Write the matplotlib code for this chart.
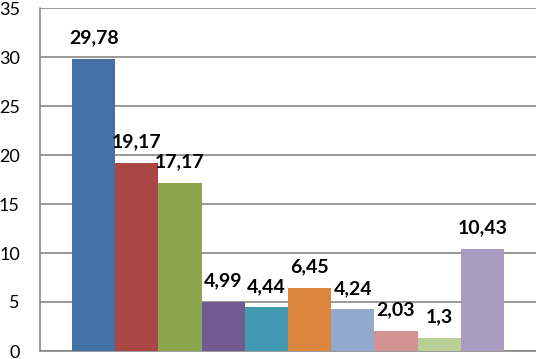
import matplotlib.pyplot as plt
import numpy as np

# valores
valores = [29.78, 19.17, 17.17, 4.99, 4.44, 6.45, 4.24, 2.03, 1.3, 10.43]
rotulos = ["29,78", "19,17", "17,17", "4,99", "4,44", "6,45", "4,24", "2,03", "1,3", "10,43"]
cores = ["#4470A8", "#AA4643", "#8BA64F", "#725A92", "#4299B2", "#DB853D",
         "#93AACF", "#D29392", "#B9CF96", "#A99BC0"]
yticks = [0, 5, 10, 15, 20, 25, 30, 35]

plt.rcParams['font.family'] = ['Lato', 'DejaVu Sans']

fig = plt.figure(figsize=(5.36, 3.59), dpi=100)
ax = fig.add_axes([40/536, 8/359, 500/536, 343/359])

xs = np.arange(len(valores))
ax.bar(xs, valores, width=1.0, color=cores, zorder=3)

for x, v, r in zip(xs, valores, rotulos):
    ax.text(x, v + 1.6, r, ha='center', va='baseline', fontsize=14,
            fontweight='bold', zorder=4)

ax.set_ylim(0, 35)
ax.set_xlim(-0.5 - 32/43, 9.5 + 36/43)
ax.set_yticks(yticks)
ax.set_yticklabels([str(t) for t in yticks], fontsize=13)
ax.set_xticks([])
ax.tick_params(axis='y', length=0, pad=14.5)
ax.yaxis.grid(True, color='#888888', linewidth=1.2, zorder=0)

for s in ['top', 'right']:
    ax.spines[s].set_visible(False)
ax.spines['left'].set_color('#888888')
ax.spines['bottom'].set_color('#888888')
ax.spines['left'].set_linewidth(1.2)
ax.spines['bottom'].set_linewidth(1.2)

fig.savefig('out.png', dpi=100)
